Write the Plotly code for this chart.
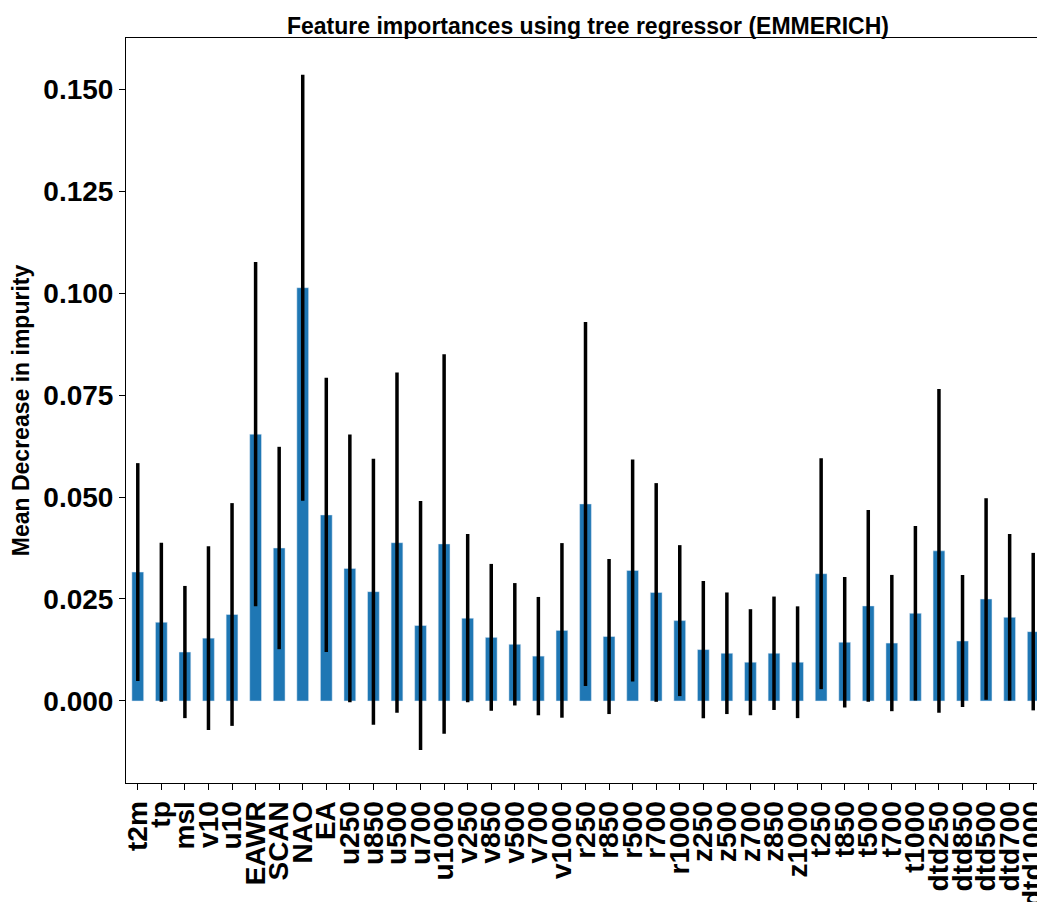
import plotly.graph_objects as go

features = ["t2m", "tp", "msl", "v10", "u10", "EAWR", "SCAN", "NAO", "EA",
            "u250", "u850", "u500", "u700", "u1000",
            "v250", "v850", "v500", "v700", "v1000",
            "r250", "r850", "r500", "r700", "r1000",
            "z250", "z500", "z700", "z850", "z1000",
            "t250", "t850", "t500", "t700", "t1000",
            "dtd250", "dtd850", "dtd500", "dtd700", "dtd1000"]
importances = [0.0316, 0.0193, 0.0120, 0.0154, 0.0212, 0.0654, 0.0375, 0.1013, 0.0456,
               0.0325, 0.0268, 0.0388, 0.0185, 0.0385,
               0.0203, 0.0156, 0.0139, 0.0110, 0.0173,
               0.0483, 0.0158, 0.0320, 0.0266, 0.0197,
               0.0126, 0.0117, 0.0095, 0.0117, 0.0095,
               0.0312, 0.0144, 0.0233, 0.0142, 0.0215,
               0.0368, 0.0147, 0.0250, 0.0205, 0.0170]
std = [0.0267, 0.0195, 0.0162, 0.0225, 0.0273, 0.0422, 0.0248, 0.0522, 0.0336,
       0.0328, 0.0326, 0.0417, 0.0305, 0.0465,
       0.0206, 0.0180, 0.0150, 0.0145, 0.0214,
       0.0446, 0.0190, 0.0272, 0.0268, 0.0185,
       0.0168, 0.0149, 0.0130, 0.0139, 0.0137,
       0.0283, 0.0160, 0.0235, 0.0167, 0.0214,
       0.0397, 0.0162, 0.0247, 0.0204, 0.0193]

fig = go.Figure(go.Bar(
    x=features, y=importances, width=0.5, marker_color="#1f77b4",
    error_y=dict(type="data", array=std, color="black", thickness=3.5, width=0),
))

font = "Liberation Sans, Arial, sans-serif"
tickfont = dict(family=font, size=28, color="black", weight="bold")
axis = dict(showline=True, mirror=True, linecolor="black", linewidth=1,
            ticks="outside", ticklen=6, tickcolor="black", showgrid=False,
            zeroline=False, tickfont=tickfont, automargin=False)
fig.update_layout(
    width=1045, height=902,
    paper_bgcolor="white", plot_bgcolor="white",
    margin=dict(l=118, r=8, t=30, b=127),
    showlegend=False,
    title=dict(text="<b>Feature importances using tree regressor (EMMERICH)</b>",
               x=0.555, xanchor="center", yref="container", y=0.98, yanchor="middle",
               font=dict(family=font, size=23, color="black")),
    xaxis=dict(axis, tickangle=-90, range=[-0.5, len(features) - 0.5],
               tickmode="array", tickvals=features, ticktext=features),
    yaxis=dict(axis, range=[-0.0201, 0.1625], tickformat=".3f",
               tickvals=[0, 0.025, 0.05, 0.075, 0.1, 0.125, 0.15],
               title=dict(text="<b>Mean Decrease in impurity</b>", standoff=8,
                          font=dict(family=font, size=23, color="black"))),
)
fig.write_html("out.html")
